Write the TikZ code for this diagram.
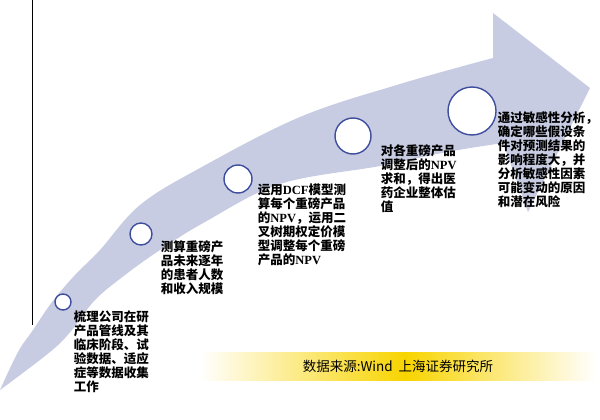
\documentclass[tikz,border=0pt]{standalone}
\usepackage{fontspec}
\setmainfont{Liberation Serif}
\newfontfamily\cjk{Noto Sans CJK SC}
\usetikzlibrary{positioning}
\definecolor{bandblue}{RGB}{200,204,226}
\definecolor{ringblue}{RGB}{62,78,158}
\definecolor{srcgold}{RGB}{248,212,0}
\newcommand\ltn[1]{{\rmfamily\bfseries #1}}
\tikzset{
  milestone/.style={
    circle,
    draw=ringblue,
    fill=white,
    line width=1.4pt,
    inner sep=0pt
  },
  stepnote/.style={
    anchor=north west,
    inner sep=0pt,
    align=left,
    font=\cjk\bfseries\fontsize{12.5}{14}\selectfont
  },
  srcnote/.style={inner sep=0pt, font=\cjk\fontsize{13.5}{15}\selectfont}
}

\begin{document}
\begin{tikzpicture}[x=1pt, y=-1pt]
  \useasboundingbox (0,0) rectangle (600,420);

  % curved arrow
  \fill[bandblue] plot[smooth, tension=0.6] coordinates {(0,390) (18,352) (33,330) (52,302) (75,275) (100,250) (140,205) (200,168) (300,117) (400,84) (493,58)}
    -- (493,13) -- (590,88) -- (528,212) --
    plot[smooth, tension=0.6] coordinates {(503,143) (447,152) (380,166) (280,184) (205,222) (160,250) (125,275) (95,300) (72,330) (50,352) (0,390)} -- cycle;

  \coordinate (axtop) at (32,0);
  \coordinate (axend) at (32,325);
  \draw[line width=0.9pt] (axtop) -- (axend);

  \node[milestone, minimum size=16pt] (c1) at (63,302) {};
  \node[milestone, minimum size=22pt] (c2) at (141,234) {};
  \node[milestone, minimum size=28pt] (c3) at (238,179) {};
  \node[milestone, minimum size=36pt] (c4) at (353,136) {};
  \node[milestone, minimum size=48pt] (c5) at (472,111) {};

  \node[stepnote, below right=9pt and 2pt of c1.east] (t1) {梳理公司在研\\产品管线及其\\临床阶段、试\\验数据、适应\\症等数据收集\\工作};
  \node[stepnote, below right=6pt and 8pt of c2.east] (t2) {测算重磅产\\品未来逐年\\的患者人数\\和收入规模};
  \node[stepnote, below right=5pt and 5pt of c3.east] (t3) {运用\ltn{DCF}模型测\\算每个重磅产品\\的\ltn{NPV}，运用二\\叉树期权定价模\\型调整每个重磅\\产品的\ltn{NPV}};
  \node[stepnote, below right=8pt and 9pt of c4.east] (t4) {对各重磅产品\\调整后的\ltn{NPV}\\求和，得出医\\药企业整体估\\值};
  \node[stepnote, below right=1pt and 1pt of c5.east] (t5) {通过敏感性分析，\\确定哪些假设条\\件对预测结果的\\影响程度大，并\\分析敏感性因素\\可能变动的原因\\和潜在风险};

  % source bar
  \shade[left color=white, right color=srcgold] (200,352) rectangle (405,380);
  \shade[left color=srcgold, right color=white] (405,352) rectangle (596,380);
  \node[srcnote] (src) at (398,366) {数据来源:Wind\ \ 上海证券研究所};
\end{tikzpicture}
\end{document}
